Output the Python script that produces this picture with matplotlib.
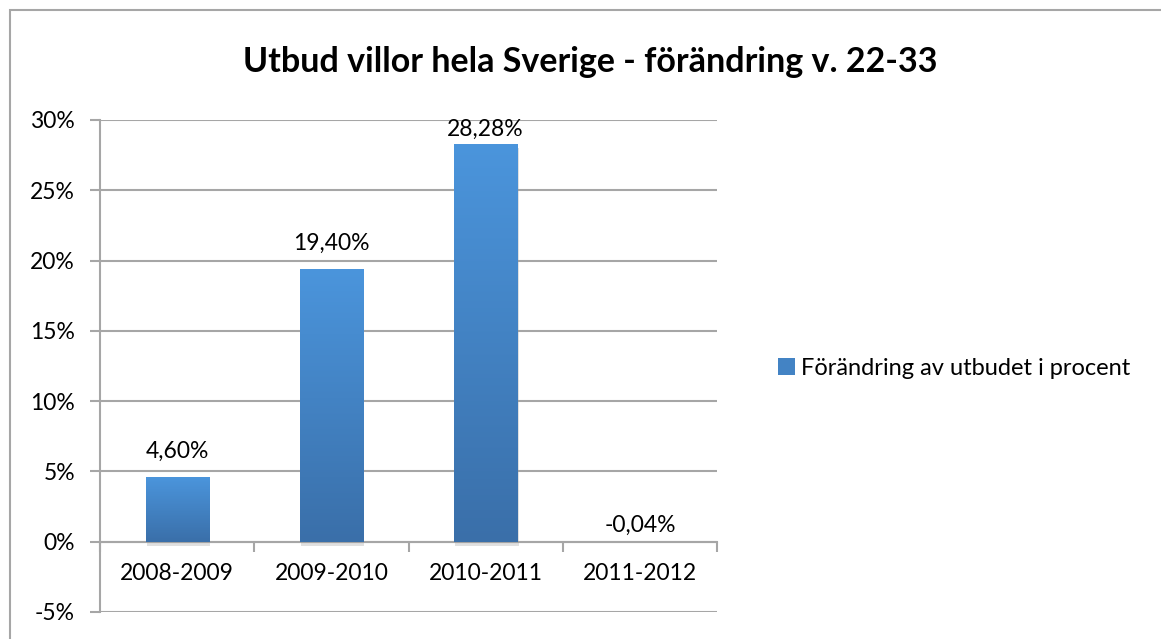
import numpy as np
import matplotlib
matplotlib.use("Agg")
import matplotlib.pyplot as plt
from matplotlib.colors import LinearSegmentedColormap
from matplotlib.patches import Rectangle
import matplotlib.patheffects as pe

matplotlib.rcParams['font.family'] = ['Lato', 'DejaVu Sans']

categories = ["2008-2009", "2009-2010", "2010-2011", "2011-2012"]
values = [4.60, 19.40, 28.28, -0.04]
labels = ["4,60%", "19,40%", "28,28%", "-0,04%"]
yticks = [-5, 0, 5, 10, 15, 20, 25, 30]
series_name = "Förändring av utbudet i procent"
title = "Utbud villor hela Sverige - förändring v. 22-33"

fig = plt.figure(figsize=(11.61, 6.39), dpi=100)
ax = fig.add_axes([100/1161, 1-612/639, 617/1161, 492/639])

grid_col = "#a6a6a6"
cmap = LinearSegmentedColormap.from_list("bar", ["#3a6fa9", "#4b95dc"])

x = np.arange(len(categories))
bars = ax.bar(x, values, width=0.41, color="#4383c4", zorder=3,
              path_effects=[pe.SimplePatchShadow(offset=(1, -3), shadow_rgbFace="#999999", alpha=0.3), pe.Normal()])

grad = np.linspace(0, 1, 256).reshape(-1, 1)
for b in bars:
    x0, y0 = b.get_x(), b.get_y()
    w, h = b.get_width(), b.get_height()
    lo, hi = min(y0, y0 + h), max(y0, y0 + h)
    im = ax.imshow(grad, cmap=cmap, aspect="auto", origin="lower",
                   extent=(x0, x0 + w, lo, hi), zorder=4)
    im.set_clip_path(b)

ymin, ymax = -5, 30
for xi, v, lab in zip(x, values, labels):
    if v > ymax - 3:
        # excel keeps the label inside the plot area
        ax.annotate(lab, (xi, ymax), xytext=(0, 1), textcoords="offset points",
                    ha="center", va="top", fontsize=16.5, zorder=5)
    else:
        off = 11 if v > 0 else 4
        ax.annotate(lab, (xi, max(v, 0)), xytext=(0, off), textcoords="offset points",
                    ha="center", va="bottom", fontsize=16.5, zorder=5)

ax.set_xlim(-0.5, len(categories) - 0.5)
ax.set_ylim(ymin, ymax)
ax.spines["bottom"].set_position(("data", 0))

ax.set_yticks(yticks)
ax.set_yticklabels([f"{t}%" for t in yticks])
ax.yaxis.grid(True, color=grid_col, linewidth=1.5, zorder=0)
ax.set_axisbelow(True)

ax.set_xticks(x)
ax.set_xticklabels(categories)
ax.set_xticks(np.arange(len(categories) + 1) - 0.5, minor=True)
ax.tick_params(axis="x", which="major", length=0, pad=15, labelsize=16.5)
ax.tick_params(axis="x", which="minor", length=7, width=1.5, color=grid_col, direction="out")
ax.tick_params(axis="y", length=7, width=1.5, color=grid_col, pad=11, labelsize=16.5)

ax.spines["bottom"].set_color(grid_col)
ax.spines["bottom"].set_linewidth(1.5)
ax.spines["left"].set_color(grid_col)
ax.spines["left"].set_linewidth(1.5)
ax.spines["top"].set_visible(False)
ax.spines["right"].set_visible(False)

fig.text(0.508, 0.903, title, ha="center", va="center", fontsize=24.5, fontweight="bold")

handle = Rectangle((0, 0), 1, 1, facecolor="#4383c4", edgecolor="none")
fig.legend([handle], [series_name], loc="center left", bbox_to_anchor=(0.652, 0.424),
           frameon=False, fontsize=17, handlelength=0.7, handleheight=0.7, handletextpad=0.25)

fig.patches.append(Rectangle((10/1161, -0.5), 2, 0.5 + 1 - 10/639, transform=fig.transFigure,
                             fill=False, edgecolor=grid_col, linewidth=1.5))

fig.savefig("out.png", dpi=100)
